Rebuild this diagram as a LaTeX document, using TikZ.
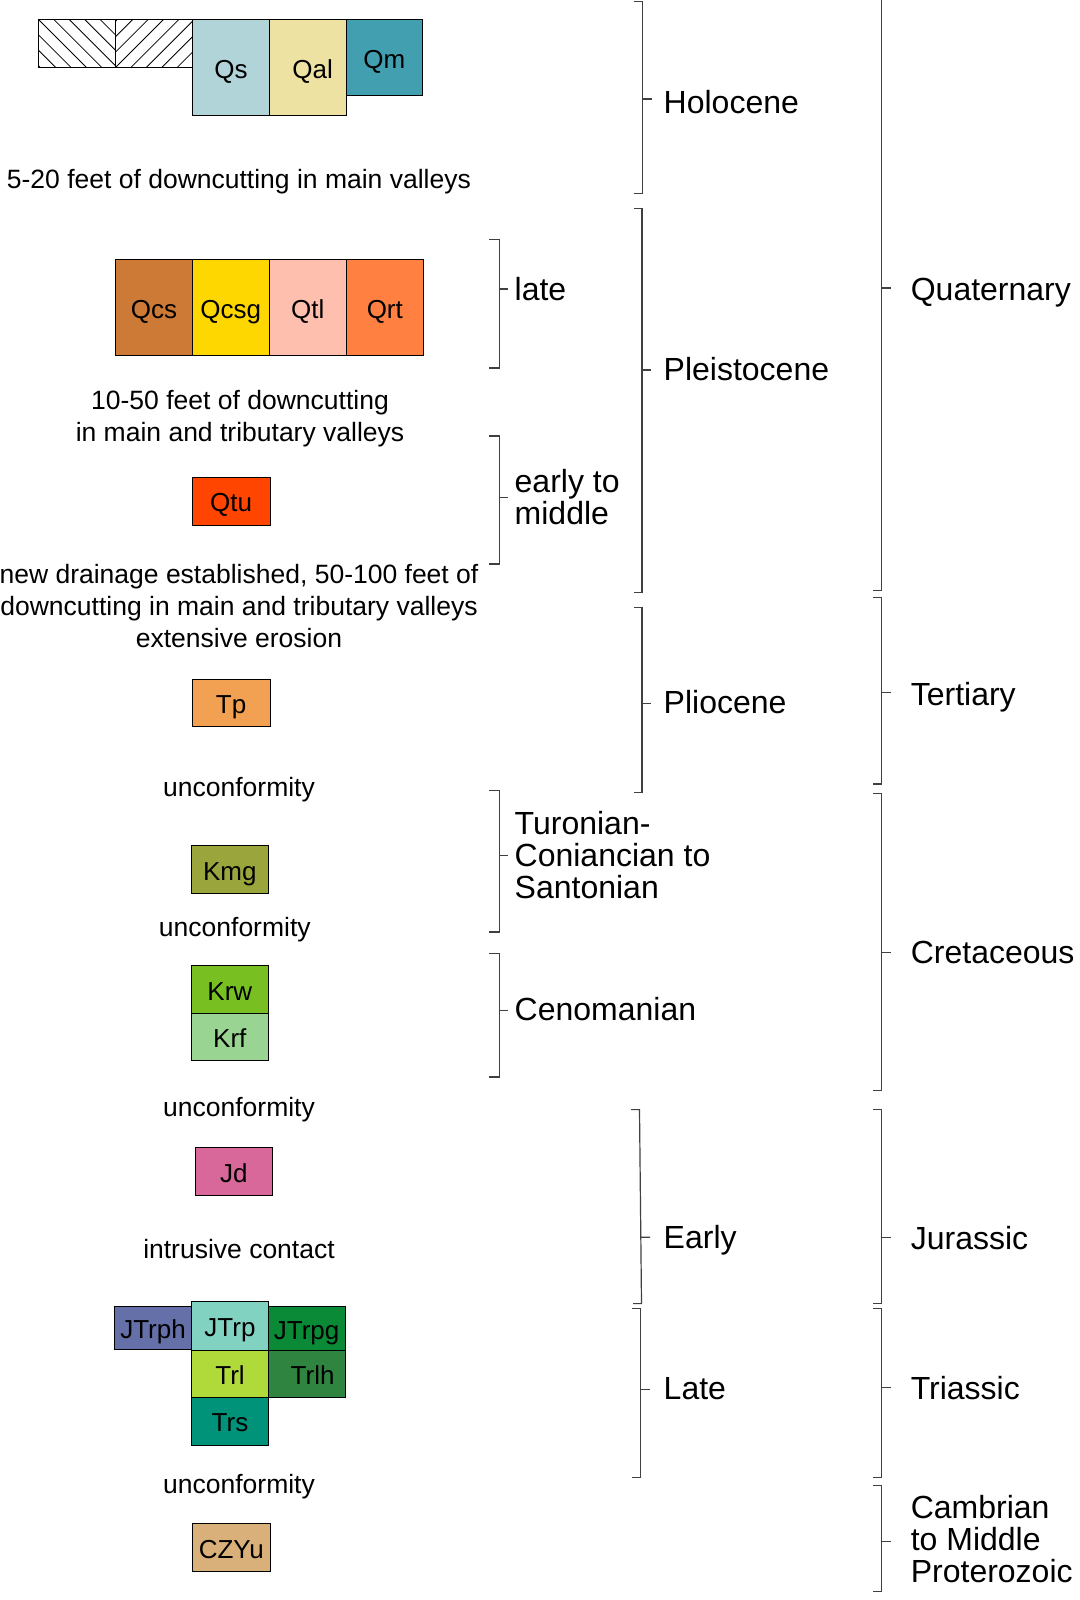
\documentclass[tikz,border=0pt]{standalone}
\usepackage{fontspec}
\setmainfont{Liberation Sans}
\definecolor{cQs}{HTML}{B0D4D8}
\definecolor{cQal}{HTML}{EDE2A2}
\definecolor{cQm}{HTML}{429FAF}
\definecolor{cQcs}{HTML}{CC7A36}
\definecolor{cQcsg}{HTML}{FFD700}
\definecolor{cQtl}{HTML}{FFBFAF}
\definecolor{cQrt}{HTML}{FF8040}
\definecolor{cQtu}{HTML}{FF4500}
\definecolor{cTp}{HTML}{F2A052}
\definecolor{cKmg}{HTML}{9AA63C}
\definecolor{cKrw}{HTML}{78C022}
\definecolor{cKrf}{HTML}{9AD492}
\definecolor{cJd}{HTML}{D8689A}
\definecolor{cJTrph}{HTML}{6670A8}
\definecolor{cJTrp}{HTML}{82D2C2}
\definecolor{cJTrpg}{HTML}{0A8A36}
\definecolor{cTrl}{HTML}{B0DA3A}
\definecolor{cTrlh}{HTML}{2F8540}
\definecolor{cTrs}{HTML}{00937A}
\definecolor{cCZYu}{HTML}{DAB07A}
\begin{document}
\begin{tikzpicture}[x=1pt,y=-1pt,
  gbox/.style={draw=black,line width=1pt,inner sep=0pt,text height=23.5pt,text depth=2pt,font=\fontsize{26}{30}\selectfont},
  note/.style={inner sep=0pt,align=center,font=\fontsize{26.5}{32}\selectfont},
  age/.style={inner sep=0pt,anchor=west,align=left,font=\fontsize{32}{32}\selectfont},
  brk/.style={draw=black!75,line width=1.2pt}]
\useasboundingbox (0,0) rectangle (1079,1600);
\fill[white] (0,0) rectangle (1079,1600);
% hatched boxes
\begin{scope}
\clip (38.3,19.3) rectangle (115.7,67.3);
\foreach \i in {-3,...,5} {\draw[line width=0.8pt] ({38.3+15.4*\i},19.3) -- ({86.3+15.4*\i},67.3);}
\end{scope}
\begin{scope}
\clip (115.7,19.3) rectangle (192.7,67.3);
\foreach \i in {-3,...,5} {\draw[line width=0.8pt] ({115.7+15.4*\i},67.3) -- ({163.7+15.4*\i},19.3);}
\end{scope}
\node[draw=black,line width=1pt,inner sep=0pt,minimum width=77.4pt,minimum height=48pt] (hatchL) at (77,43.3) {};
\node[draw=black,line width=1pt,inner sep=0pt,minimum width=77pt,minimum height=48pt] (hatchR) at (154.2,43.3) {};
% boxes
\node[gbox,fill=cQs,minimum width=76.6pt,minimum height=96pt] (qs) at (231,67.3) {Qs};
\node[gbox,fill=cQal,minimum width=76.7pt,minimum height=96pt] (qal) at (307.65,67.3) {\hspace*{10pt}Qal};
\node[gbox,fill=cQm,minimum width=76.7pt,minimum height=76.7pt] (qm) at (384.35,57.65) {Qm};
\node[gbox,fill=cQcs,minimum width=76.6pt,minimum height=96pt] (qcs) at (154,307.3) {Qcs};
\node[gbox,fill=cQcsg,minimum width=77pt,minimum height=96pt] (qcsg) at (230.8,307.3) {Qcsg};
\node[gbox,fill=cQtl,minimum width=77pt,minimum height=96pt] (qtl) at (307.8,307.3) {Qtl};
\node[gbox,fill=cQrt,minimum width=77pt,minimum height=96pt] (qrt) at (384.8,307.3) {Qrt};
\node[gbox,fill=cQtu,minimum width=77.7pt,minimum height=47.7pt] (qtu) at (231.15,501.15) {Qtu};
\node[gbox,fill=cTp,minimum width=77.7pt,minimum height=47pt] (tp) at (231.15,702.5) {Tp};
\node[gbox,fill=cKmg,minimum width=77pt,minimum height=47.6pt] (kmg) at (229.8,869.5) {Kmg};
\node[gbox,fill=cKrw,minimum width=77pt,minimum height=48pt] (krw) at (229.8,989.3) {Krw};
\node[gbox,fill=cKrf,minimum width=77pt,minimum height=47.4pt] (krf) at (229.8,1037) {Krf};
\node[gbox,fill=cJd,minimum width=77.7pt,minimum height=48pt] (jd) at (233.85,1171.3) {Jd};
\node[gbox,fill=cJTrph,minimum width=77.4pt,minimum height=42.6pt] (jtrph) at (153,1328) {JTrph};
\node[gbox,fill=cJTrpg,minimum width=76.7pt,minimum height=43.3pt] (jtrpg) at (306.65,1328.35) {JTrpg};
\node[gbox,fill=cJTrp,minimum width=76.6pt,minimum height=48.3pt] (jtrp) at (230,1325.85) {JTrp};
\node[gbox,fill=cTrl,minimum width=76.6pt,minimum height=47.3pt] (trl) at (230,1373.65) {Trl};
\node[gbox,fill=cTrlh,minimum width=76.7pt,minimum height=47.3pt] (trlh) at (306.65,1373.65) {\hspace*{12pt}Trlh};
\node[gbox,fill=cTrs,minimum width=76.6pt,minimum height=47.7pt] (trs) at (230,1421.15) {Trs};
\node[gbox,fill=cCZYu,minimum width=77.3pt,minimum height=48.4pt] (czyu) at (231.35,1547.5) {CZYu};
% notes
\node[note] (n1) at (238.9,181.7) {5-20 feet of downcutting in main valleys};
\node[note] (n2) at (240,418.5) {10-50 feet of downcutting\\in main and tributary valleys};
\node[note] (n3) at (239,606.3) {new drainage established, 50-100 feet of\\downcutting in main and tributary valleys\\extensive erosion};
\node[note] (n4) at (239,790) {unconformity};
\node[note] (n5) at (234.8,930) {unconformity};
\node[note] (n6) at (239,1109.6) {unconformity};
\node[note] (n7) at (239,1249.4) {intrusive contact};
\node[note] (n8) at (239,1486.3) {unconformity};
% brackets: inner column
\draw[brk] (489.3,239.8) -- (499.3,239.8) -- (499.3,368) -- (489.3,368) (499.3,289) -- (508.3,289);
\draw[brk] (489.3,436) -- (499.3,436) -- (499.3,564) -- (489.3,564) (499.3,497.3) -- (508.3,497.3);
\draw[brk] (489.3,790.1) -- (499.3,790.1) -- (499.3,932) -- (489.3,932) (499.3,855.4) -- (508.3,855.4);
\draw[brk] (489.3,953.4) -- (499.3,953.4) -- (499.3,1077) -- (489.3,1077) (499.3,1010.6) -- (508.3,1010.6);
% middle column
\draw[brk] (634,1.7) -- (642.3,1.7) -- (642.3,193.3) -- (634,193.3) (642.3,99) -- (651.7,99);
\draw[brk] (634,208.3) -- (642,208.3) -- (642,592.7) -- (634,592.7) (642,370) -- (651.4,370);
\draw[brk] (634,607.4) -- (642,607.4) -- (642,792.2) -- (634,792.2) (642,703.3) -- (651.4,703.3);
\draw[brk] (631,1109.6) -- (639.5,1109.6) -- (641.5,1303.6) -- (633,1303.6) (640.8,1237.2) -- (650.2,1237.2);
\draw[brk] (632,1308.7) -- (640.5,1308.7) -- (640.5,1477.1) -- (632,1477.1) (640.5,1389.3) -- (649.9,1389.3);
% outer column
\draw[brk] (873.3,-1) -- (881.7,-1) -- (881.7,590.7) -- (873.3,590.7) (881.7,288) -- (890.7,288);
\draw[brk] (873.3,597.3) -- (881.7,597.3) -- (881.7,784) -- (873.3,784) (881.7,692.3) -- (890.7,692.3);
\draw[brk] (873.3,793.2) -- (881.7,793.2) -- (881.7,1090.2) -- (873.3,1090.2) (881.7,952.4) -- (890.7,952.4);
\draw[brk] (873.3,1109.6) -- (881.7,1109.6) -- (881.7,1303.6) -- (873.3,1303.6) (881.7,1237.2) -- (890.7,1237.2);
\draw[brk] (873.3,1308.7) -- (881.7,1308.7) -- (881.7,1477.1) -- (873.3,1477.1) (881.7,1387.3) -- (890.7,1387.3);
\draw[brk] (873.3,1485.7) -- (881.7,1485.7) -- (881.7,1591.7) -- (873.3,1591.7) (881.7,1541.7) -- (890.7,1541.7);
% age labels
\node[age] (late) at (514.5,289) {late};
\node[age] (earlymid) at (514.5,496.6) {early to\\middle};
\node[age] (turon) at (514.5,855.4) {Turonian-\\Coniancian to\\Santonian};
\node[age] (ceno) at (514.5,1008.6) {Cenomanian};
\node[age] (holo) at (663.5,102) {Holocene};
\node[age] (pleis) at (663.5,369.5) {Pleistocene};
\node[age] (plio) at (663.5,702) {Pliocene};
\node[age] (early) at (663.5,1240) {Early};
\node[age] (lateT) at (663.5,1389) {Late};
\node[age] (quat) at (910.6,293) {Quaternary};
\node[age] (tert) at (910.6,697) {Tertiary};
\node[age] (cret) at (910.6,952.4) {Cretaceous};
\node[age] (jur) at (910.6,1238) {Jurassic};
\node[age] (tri) at (910.6,1388) {Triassic};
\node[age] (camb) at (910.6,1539.4) {Cambrian\\to Middle\\Proterozoic};
\end{tikzpicture}
\end{document}
